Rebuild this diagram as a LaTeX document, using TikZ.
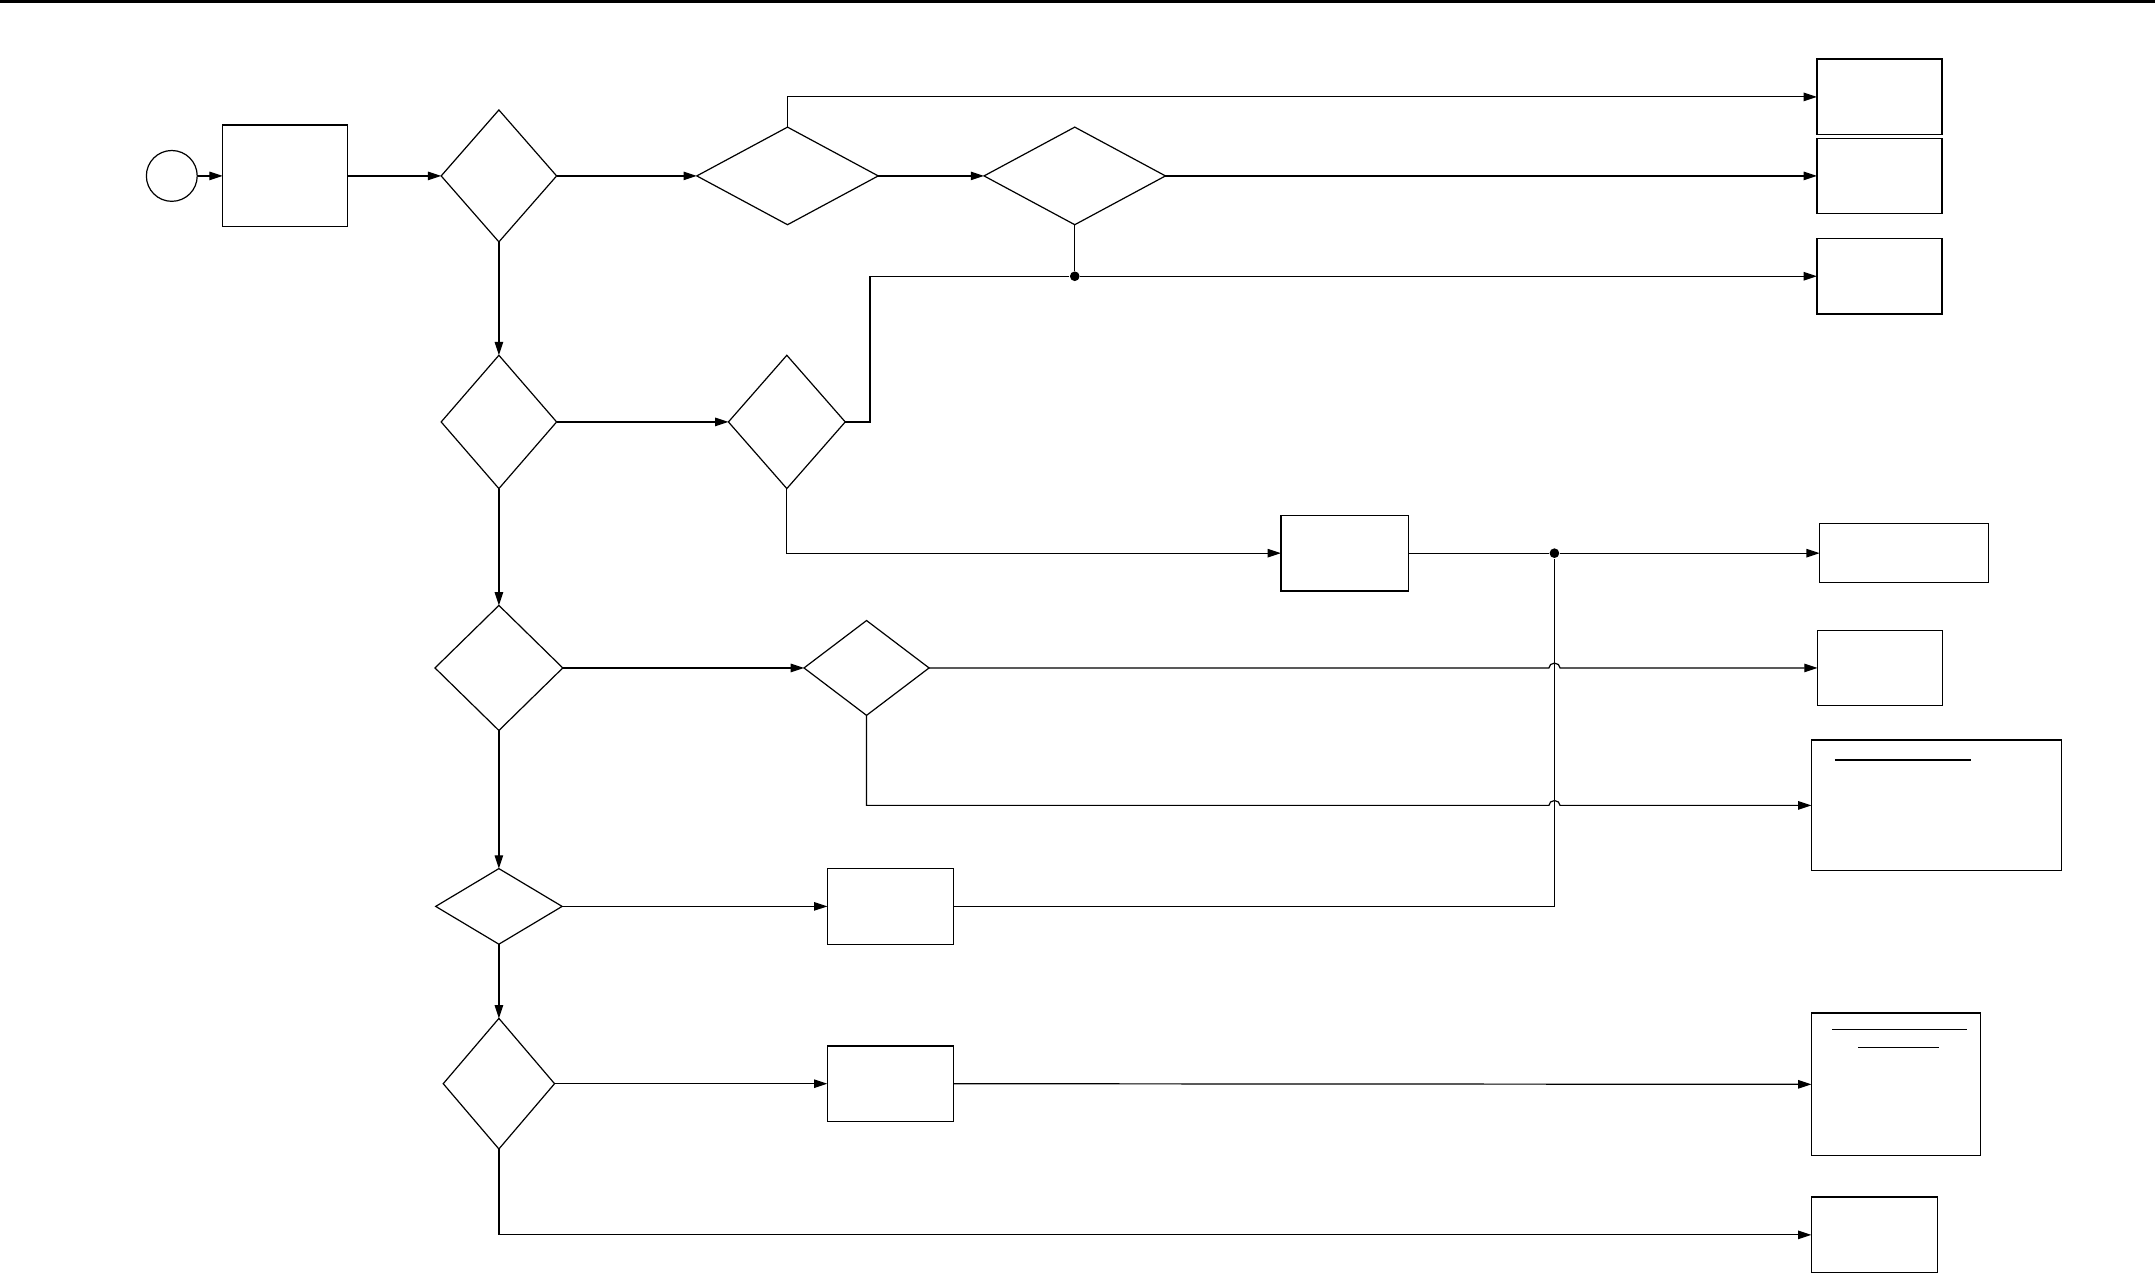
\documentclass[tikz,border=0pt]{standalone}
\usetikzlibrary{shapes.geometric,arrows.meta}
\begin{document}
\begin{tikzpicture}[x=0.02cm,y=-0.02cm,line width=0.5pt,
  blk/.style 2 args={draw,rectangle,inner sep=0pt,outer sep=0pt,minimum width=#1*0.02cm,minimum height=#2*0.02cm},
  dec/.style 2 args={draw,diamond,inner sep=0pt,outer sep=0pt,minimum width=#1*0.02cm,minimum height=#2*0.02cm},
  jdot/.style={circle,fill,inner sep=0pt,minimum size=4pt},
  arr/.style={-{Triangle[length=5.5pt,width=3.5pt]}}]
  \useasboundingbox (0,0) rectangle (1568,926.3);
  \fill (0,0) rectangle (1568,2.2);
  \node[draw,circle,inner sep=0pt,minimum size=0.74cm] (start) at (125,128) {};
  \node[blk={91}{74}] (prep) at (207.5,128) {};
  \node[dec={84}{96}] (d1) at (363,128) {};
  \node[dec={132}{71}] (d2) at (573,128) {};
  \node[dec={132}{71}] (d3) at (782,128) {};
  \node[dec={84}{97}] (d4) at (363,307) {};
  \node[dec={85}{97}] (d5) at (572.5,307) {};
  \node[dec={93}{91}] (d6) at (363,486) {};
  \node[dec={91}{69}] (d7) at (630.5,486) {};
  \node[dec={92}{55}] (d8) at (363,659.5) {};
  \node[dec={81}{95}] (d9) at (363,788.5) {};
  \node[blk={93}{55}] (b2) at (978.5,402.5) {};
  \node[blk={92}{55}] (b4) at (648,659.5) {};
  \node[blk={92}{55}] (b5) at (648,788.5) {};
  \node[blk={91}{55}] (r1) at (1367.5,70.5) {};
  \node[blk={91}{55}] (r2) at (1367.5,128) {};
  \node[blk={91}{55}] (r3) at (1367.5,201) {};
  \node[blk={123}{43}] (r4) at (1385.5,402.5) {};
  \node[blk={91}{55}] (r5) at (1368,486) {};
  \node[blk={182}{95}] (r6) at (1409,586) {};
  \node[blk={123}{104}] (r7) at (1379.5,789) {};
  \node[blk={92}{55}] (r8) at (1364,898.5) {};
  \draw (1335,553) -- (1434,553);
  \draw (1333,749) -- (1431,749);
  \draw (1352,762) -- (1411,762);
  \node[jdot] (j1) at (d3 |- r3) {};
  \node[jdot] (j2) at (1131,402.5) {};
  \draw[arr] (start) -- (prep);
  \draw[arr] (prep) -- (d1);
  \draw[arr] (d1) -- (d2);
  \draw[arr] (d2.north) |- (r1.west);
  \draw[arr] (d2) -- (d3);
  \draw[arr] (d3) -- (r2);
  \draw (d3.south) -- (j1);
  \draw[arr] (j1) -- (r3.west);
  \draw (d5.east) -- ++(18,0) |- (j1);
  \draw[arr] (d1) -- (d4);
  \draw[arr] (d4) -- (d5);
  \draw[arr] (d5.south) |- (b2.west);
  \draw (b2) -- (j2);
  \draw[arr] (j2) -- (r4.west);
  \draw (b4.east) -| (j2);
  \draw[arr] (d4) -- (d6);
  \draw[arr] (d6) -- (d7);
  \draw[arr] (d7.east) -- (1127,486) arc[start angle=180,end angle=0,x radius=2.3pt,y radius=2pt] -- (r5.west);
  \draw[arr] (d7.south) |- (1127,586) arc[start angle=180,end angle=0,x radius=2.3pt,y radius=2pt] -- (r6.west);
  \draw[arr] (d6) -- (d8);
  \draw[arr] (d8) -- (b4);
  \draw[arr] (d8) -- (d9);
  \draw[arr] (d9) -- (b5);
  \draw[arr] (b5) -- (r7);
  \draw[arr] (d9.south) |- (r8.west);
\end{tikzpicture}
\end{document}
